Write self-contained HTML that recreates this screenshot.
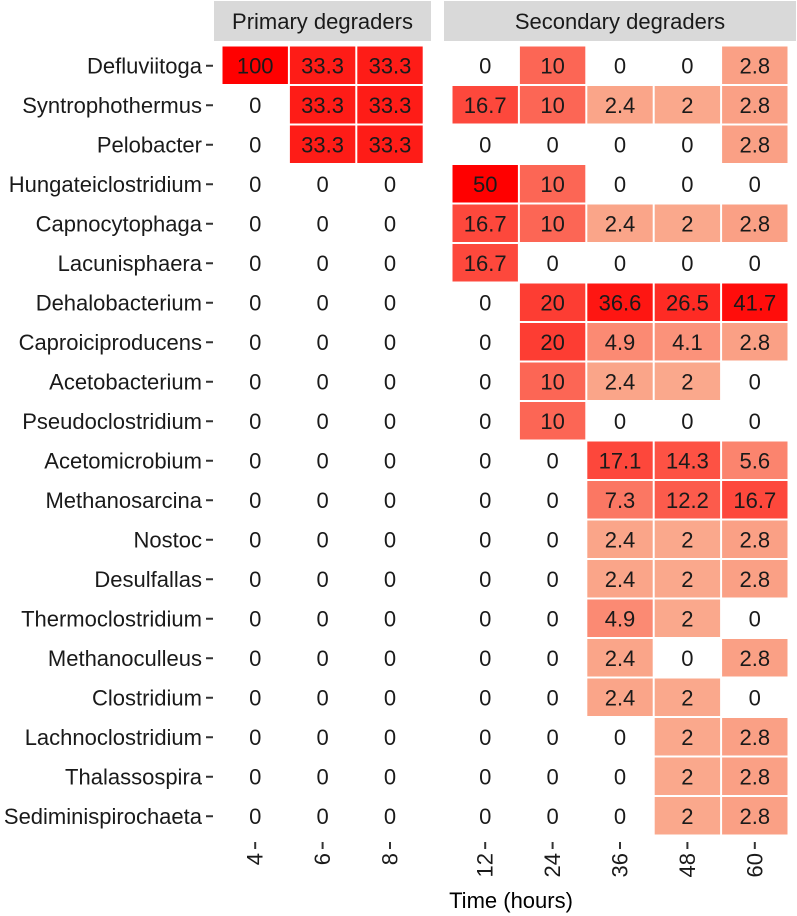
<!DOCTYPE html>
<html><head><meta charset="utf-8"><style>
html,body{margin:0;padding:0;background:#fff;}
svg{display:block;font-family:"Liberation Sans",Arial,sans-serif;}
</style></head><body>
<svg id="chart" width="797" height="916" viewBox="0 0 797 916" xmlns="http://www.w3.org/2000/svg"></svg>
<script>
const genera = ["Defluviitoga","Syntrophothermus","Pelobacter","Hungateiclostridium","Capnocytophaga","Lacunisphaera","Dehalobacterium","Caproiciproducens","Acetobacterium","Pseudoclostridium","Acetomicrobium","Methanosarcina","Nostoc","Desulfallas","Thermoclostridium","Methanoculleus","Clostridium","Lachnoclostridium","Thalassospira","Sediminispirochaeta"];
const primaryTimes = ["4","6","8"];
const secondaryTimes = ["12","24","36","48","60"];
const primaryValues = [
 [100,33.3,33.3],[0,33.3,33.3],[0,33.3,33.3],[0,0,0],[0,0,0],[0,0,0],[0,0,0],[0,0,0],[0,0,0],[0,0,0],
 [0,0,0],[0,0,0],[0,0,0],[0,0,0],[0,0,0],[0,0,0],[0,0,0],[0,0,0],[0,0,0],[0,0,0]];
const secondaryValues = [
 [0,10,0,0,2.8],[16.7,10,2.4,2,2.8],[0,0,0,0,2.8],[50,10,0,0,0],[16.7,10,2.4,2,2.8],[16.7,0,0,0,0],
 [0,20,36.6,26.5,41.7],[0,20,4.9,4.1,2.8],[0,10,2.4,2,0],[0,10,0,0,0],[0,0,17.1,14.3,5.6],[0,0,7.3,12.2,16.7],
 [0,0,2.4,2,2.8],[0,0,2.4,2,2.8],[0,0,4.9,2,0],[0,0,2.4,0,2.8],[0,0,2.4,2,0],[0,0,0,2,2.8],[0,0,0,2,2.8],[0,0,0,2,2.8]];
const panelTitles = ["Primary degraders","Secondary degraders"];
const axisTitle = "Time (hours)";

const NS="http://www.w3.org/2000/svg";
const svg=document.getElementById('chart');
const FS=22;
const rowTop=45.5, rowStep=39.5;
const colStep=67.4;
const panels=[{x0:214,x1:431,times:primaryTimes,vals:primaryValues,title:panelTitles[0]},
              {x0:444,x1:796,times:secondaryTimes,vals:secondaryValues,title:panelTitles[1]}];
function yPos(i){return rowTop+i*rowStep;}
function xPos(p,j){return p.x0+7.5+j*colStep;}
function color(v){
  let t=Math.log(v/2)/Math.log(25); t=Math.max(0,Math.min(1,t));
  t=Math.pow(t,1.35);
  const lo=[250,168,140], hi=[255,0,0];
  const c=lo.map((l,k)=>Math.round(l+(hi[k]-l)*t));
  return `rgb(${c[0]},${c[1]},${c[2]})`;
}
function mk(tag,attrs,text){const e=document.createElementNS(NS,tag);for(const k in attrs)e.setAttribute(k,attrs[k]);if(text!==undefined)e.textContent=text;svg.appendChild(e);return e;}

panels.forEach((p,pi)=>{
  const s=mk('rect',{x:p.x0,y:1,width:p.x1-p.x0,height:40,fill:'#d9d9d9'});
  
  
  const st=mk('text',{x:(p.x0+p.x1)/2,y:29,'text-anchor':'middle','font-size':FS,fill:'#1a1a1a'},p.title);
  
  
  p.times.forEach((t,j)=>{
    const cx=xPos(p,j)+colStep/2;
    const tk=mk('line',{x1:cx,y1:842,x2:cx,y2:849,stroke:'#333','stroke-width':2});
    
    
    const tl=mk('text',{x:0,y:0,'text-anchor':'end','font-size':FS,fill:'#1a1a1a',transform:`translate(${cx+7.5},${853}) rotate(-90)`},t);
    
    
    genera.forEach((g,i)=>{
      const v=p.vals[i][j];
      const y=yPos(i);
      if(v>0){
        const r=mk('rect',{x:xPos(p,j)+1,y:y+1,width:colStep-2,height:rowStep-2,fill:color(v)});
        
        
      }
      const tx=mk('text',{x:cx,y:y+rowStep/2+8,'text-anchor':'middle','font-size':FS,fill:'#1a1a1a'},String(v));
      
      
    });
  });
});
genera.forEach((g,i)=>{
  const y=yPos(i)+rowStep/2+8;
  const l=mk('text',{x:202,y:y,'text-anchor':'end','font-size':FS,fill:'#1a1a1a'},g);
  
  
  const d=mk('line',{x1:206,y1:y-7.5,x2:213,y2:y-7.5,stroke:'#333','stroke-width':2});
  
  
});
const at=mk('text',{x:511,y:908,'text-anchor':'middle','font-size':FS,fill:'#000'},axisTitle);


</script>
</body></html>
